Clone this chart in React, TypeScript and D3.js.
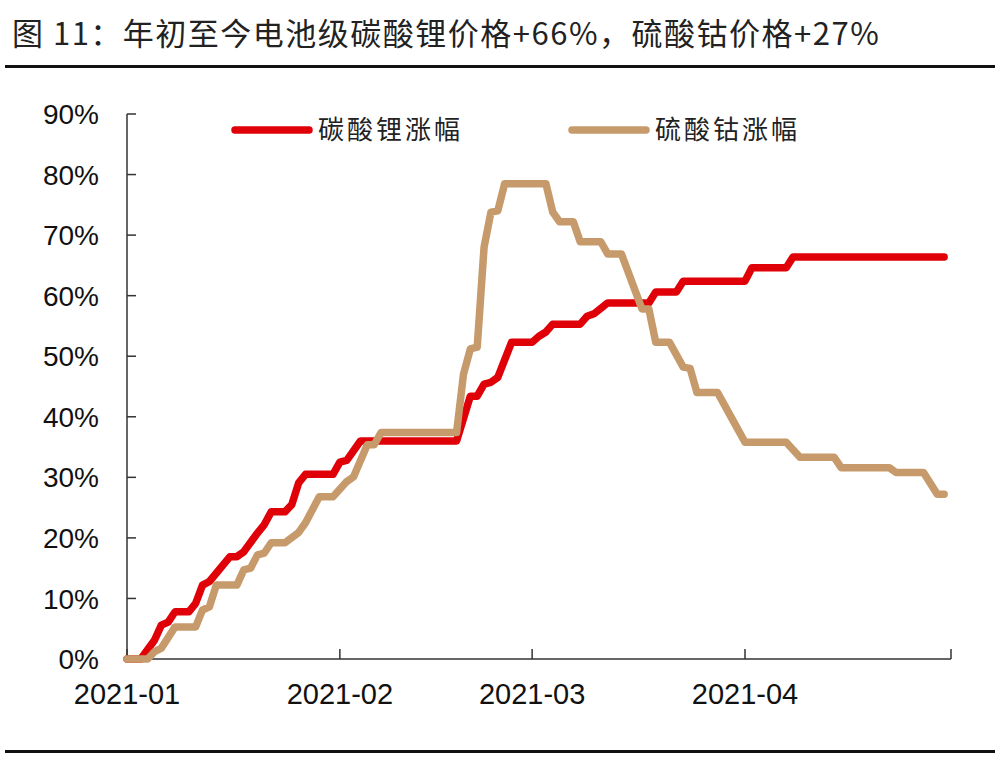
import React from "react";
import * as d3 from "d3";

// 碳酸锂涨幅 (cumulative % change since Jan 1)
const liDates = [
  "2021-01-01", "2021-01-03", "2021-01-05", "2021-01-06", "2021-01-07", "2021-01-08",
  "2021-01-10", "2021-01-11", "2021-01-12", "2021-01-13", "2021-01-16", "2021-01-17",
  "2021-01-18", "2021-01-20", "2021-01-21", "2021-01-22", "2021-01-24", "2021-01-25",
  "2021-01-26", "2021-01-27", "2021-01-31", "2021-02-01", "2021-02-02", "2021-02-04",
  "2021-02-18", "2021-02-20", "2021-02-21", "2021-02-22", "2021-02-23", "2021-02-24",
  "2021-02-26", "2021-03-01", "2021-03-02", "2021-03-03", "2021-03-04", "2021-03-08",
  "2021-03-09", "2021-03-10", "2021-03-12", "2021-03-18", "2021-03-19", "2021-03-22",
  "2021-03-23", "2021-04-01", "2021-04-02", "2021-04-07", "2021-04-08", "2021-04-30",
];
const liValues = [
  0, 0, 3.1, 5.6, 6.1, 7.8,
  7.8, 9.2, 12.2, 12.8, 16.9, 16.9,
  17.7, 20.8, 22.2, 24.3, 24.3, 25.5,
  29.1, 30.5, 30.5, 32.5, 32.8, 36.0,
  36.0, 43.4, 43.4, 45.4, 45.7, 46.5,
  52.3, 52.3, 53.3, 54.0, 55.3, 55.3,
  56.6, 57.0, 58.8, 58.8, 60.6, 60.6,
  62.4, 62.4, 64.6, 64.6, 66.4, 66.4,
];

// 硫酸钴涨幅
const coDates = [
  "2021-01-01", "2021-01-04", "2021-01-05", "2021-01-06", "2021-01-08", "2021-01-11",
  "2021-01-12", "2021-01-13", "2021-01-14", "2021-01-17", "2021-01-18", "2021-01-19",
  "2021-01-20", "2021-01-21", "2021-01-22", "2021-01-24", "2021-01-26", "2021-01-27",
  "2021-01-29", "2021-01-31", "2021-02-02", "2021-02-03", "2021-02-05", "2021-02-06",
  "2021-02-07", "2021-02-18", "2021-02-19", "2021-02-20", "2021-02-21", "2021-02-22",
  "2021-02-23", "2021-02-24", "2021-02-25", "2021-03-03", "2021-03-04", "2021-03-05",
  "2021-03-07", "2021-03-08", "2021-03-11", "2021-03-12", "2021-03-14", "2021-03-17",
  "2021-03-18", "2021-03-19", "2021-03-21", "2021-03-23", "2021-03-24", "2021-03-25",
  "2021-03-28", "2021-03-30", "2021-04-01", "2021-04-07", "2021-04-09", "2021-04-14",
  "2021-04-15", "2021-04-22", "2021-04-23", "2021-04-27", "2021-04-29", "2021-04-30",
];
const coValues = [
  0, 0, 1.2, 1.8, 5.3, 5.3,
  8.1, 8.6, 12.2, 12.2, 14.7, 15.0,
  17.2, 17.5, 19.2, 19.2, 20.9, 22.5,
  26.8, 26.8, 29.3, 30.1, 35.4, 35.4,
  37.4, 37.4, 47.0, 51.2, 51.5, 68.0,
  73.8, 74.0, 78.5, 78.5, 73.8, 72.2,
  72.2, 68.9, 68.9, 66.9, 66.9, 57.8,
  57.8, 52.3, 52.3, 48.2, 48.0, 44.0,
  44.0, 39.9, 35.8, 35.8, 33.3, 33.3,
  31.6, 31.6, 30.8, 30.8, 27.2, 27.2,
];

const monthTicks = ["2021-01-01", "2021-02-01", "2021-03-01", "2021-04-01", "2021-05-01"];
const monthLabels = ["2021-01", "2021-02", "2021-03", "2021-04", ""];
const yTicks = [0, 10, 20, 30, 40, 50, 60, 70, 80, 90];

const seriesNames = ["碳酸锂涨幅", "硫酸钴涨幅"];
const seriesColors = ["#E00008", "#C69A6B"];

const title = "图 11：年初至今电池级碳酸锂价格+66%，硫酸钴价格+27%";

const W = 1000;
const H = 759;
const parse = d3.utcParse("%Y-%m-%d");

export default function App() {
  const x = d3
    .scaleUtc()
    .domain([parse("2021-01-01")!, parse("2021-05-01")!])
    .range([127, 951]);
  const y = d3.scaleLinear().domain([0, 90]).range([659, 114]);

  const line = d3
    .line<[Date, number]>()
    .x((d) => x(d[0]))
    .y((d) => y(d[1]));

  const li: [Date, number][] = liDates.map((d, i) => [parse(d)!, liValues[i]]);
  const co: [Date, number][] = coDates.map((d, i) => [parse(d)!, coValues[i]]);

  const numFont = "'Liberation Sans', Arial, sans-serif";
  const cjkFont = "'Noto Sans CJK SC', sans-serif";
  const axisColor = "#333";

  return (
    <svg
      width={W}
      height={H}
      viewBox={`0 0 ${W} ${H}`}
      style={{ position: "absolute", left: 0, top: 0, background: "#fff" }}
    >
      <text x={12} y={45} fontFamily={cjkFont} fontSize={31} letterSpacing={1.5} fill="#222">
        {title}
      </text>
      <rect x={5} y={65} width={990} height={3} fill="#111" />
      <rect x={5} y={750} width={990} height={3} fill="#111" />

      {/* y axis */}
      <line x1={127} x2={127} y1={y(90)} y2={y(0)} stroke={axisColor} strokeWidth={1.5} />
      {yTicks.map((t) => (
        <g key={t}>
          <line x1={127} x2={136} y1={y(t)} y2={y(t)} stroke={axisColor} strokeWidth={1.5} />
          <text
            x={99}
            y={y(t)}
            dy="0.36em"
            textAnchor="end"
            fontFamily={numFont}
            fontSize={28}
            fill="#111"
          >
            {t}%
          </text>
        </g>
      ))}

      {/* x axis */}
      <line x1={127} x2={951} y1={y(0)} y2={y(0)} stroke={axisColor} strokeWidth={1.5} />
      {monthTicks.map((m, i) => {
        const px = x(parse(m)!);
        return (
          <g key={m}>
            <line x1={px} x2={px} y1={y(0)} y2={y(0) - 10} stroke={axisColor} strokeWidth={1.5} />
            <text
              x={px}
              y={704}
              textAnchor="middle"
              fontFamily={numFont}
              fontSize={29}
              fill="#111"
            >
              {monthLabels[i]}
            </text>
          </g>
        );
      })}

      {/* lines */}
      <path
        d={line(li) ?? ""}
        fill="none"
        stroke={seriesColors[0]}
        strokeWidth={7.5}
        strokeLinejoin="round"
        strokeLinecap="round"
      />
      <path
        d={line(co) ?? ""}
        fill="none"
        stroke={seriesColors[1]}
        strokeWidth={7.5}
        strokeLinejoin="round"
        strokeLinecap="round"
      />

      {/* legend */}
      {seriesNames.map((name, i) => {
        const lx = i === 0 ? 235 : 572;
        return (
          <g key={name}>
            <line
              x1={lx}
              x2={lx + 74}
              y1={130}
              y2={130}
              stroke={seriesColors[i]}
              strokeWidth={7.5}
              strokeLinecap="round"
            />
            <text
              x={lx + 83}
              y={130}
              dy="0.36em"
              fontFamily={cjkFont}
              fontSize={26}
              letterSpacing={3}
              fill="#222"
            >
              {name}
            </text>
          </g>
        );
      })}
    </svg>
  );
}
